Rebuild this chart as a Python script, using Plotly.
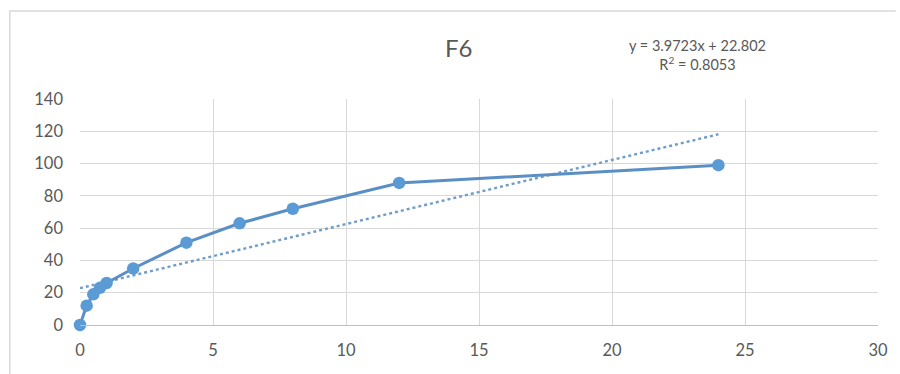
import plotly.graph_objects as go

# Data
time_x = [0, 0.25, 0.5, 0.75, 1, 2, 4, 6, 8, 12, 24]
values_y = [0, 12, 19, 23, 26, 35, 51, 63, 72, 88, 99]
trend_slope = 3.9723
trend_intercept = 22.802
trend_r2 = 0.8053
x_ticks = [0, 5, 10, 15, 20, 25, 30]
y_ticks = [0, 20, 40, 60, 80, 100, 120, 140]
title_text = "F6"

W, H = 900, 374
ML, MR, MT, MB = 80, 13, 99, 49

trend_x = [min(time_x), max(time_x)]
trend_y = [trend_slope * v + trend_intercept for v in trend_x]

fig = go.Figure()
fig.add_trace(go.Scatter(
    x=trend_x, y=trend_y, mode="lines",
    line=dict(color="#6f9cc8", width=2.4, dash="dot"),
    hoverinfo="skip", showlegend=False,
))
fig.add_trace(go.Scatter(
    x=time_x, y=values_y, mode="lines+markers",
    line=dict(color="#5a8fc6", width=3),
    marker=dict(color="#5b9bd5", size=12.5),
    cliponaxis=False, showlegend=False,
))

font_fam = "Lato, 'Open Sans', sans-serif"
fig.update_layout(
    width=W, height=H,
    margin=dict(l=ML, r=MR, t=MT, b=MB),
    paper_bgcolor="white", plot_bgcolor="white",
    font=dict(family=font_fam, color="#595959", size=16),
    xaxis=dict(range=[0, 30], tickvals=x_ticks, showgrid=True, gridcolor="#d9d9d9",
               gridwidth=1, zeroline=False, showline=True, linecolor="#bfbfbf",
               linewidth=1, ticks="", mirror=False, ticklabelstandoff=10,
               tickfont=dict(size=16.5, color="#595959")),
    yaxis=dict(range=[0, 140], tickvals=y_ticks, showgrid=True, gridcolor="#d9d9d9",
               gridwidth=1, zeroline=False, showline=False, ticks="",
               ticklabelstandoff=16, tickfont=dict(size=16.5, color="#595959")),
    showlegend=False,
)

def px_x(p):
    return (p - ML) / (W - ML - MR)

def px_y(p):
    return 1 - (p - MT) / (H - MT - MB)

# Chart frame
fig.add_shape(type="path", xref="paper", yref="paper",
              path=f"M {px_x(9)} {px_y(380)} L {px_x(9)} {px_y(11)} L {px_x(905)} {px_y(11)}",
              line=dict(color="#d9d9d9", width=1.5))

fig.add_annotation(x=px_x(463), y=px_y(48), xref="paper", yref="paper",
                   text=title_text, showarrow=False, xanchor="center", yanchor="middle",
                   font=dict(size=24, color="#595959", family=font_fam))
fig.add_annotation(x=px_x(704), y=px_y(55), xref="paper", yref="paper",
                   text=f"y = {trend_slope}x + {trend_intercept}<br>R<sup>2</sup> = {trend_r2}",
                   showarrow=False, xanchor="center", yanchor="middle", align="center",
                   font=dict(size=14.5, color="#595959", family=font_fam))

fig.write_html("out.html")
